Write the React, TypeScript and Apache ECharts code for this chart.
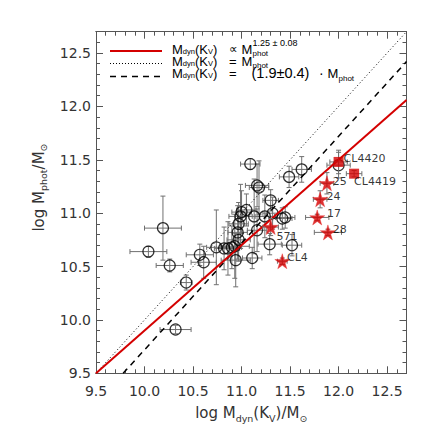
import React, { useEffect, useRef } from 'react';
import * as echarts from 'echarts';

// ---------- data ----------
const circleX = [10.04, 10.19, 10.26, 10.43, 10.32, 10.57, 10.61, 10.74, 10.82, 10.86, 10.9, 10.93, 10.97, 10.96, 10.97, 10.99, 11.0, 11.05, 11.09, 11.16, 11.18, 11.13, 11.24, 11.32, 11.3, 11.42, 11.45, 11.16, 10.94, 11.11, 11.29, 11.52, 11.49, 11.62, 12.0];
const circleY = [10.64, 10.86, 10.51, 10.35, 9.91, 10.61, 10.54, 10.68, 10.67, 10.67, 10.68, 10.69, 10.75, 10.82, 10.9, 10.97, 11.01, 11.03, 11.46, 11.26, 11.24, 10.97, 10.97, 11.0, 11.12, 10.95, 10.96, 10.84, 10.56, 10.58, 10.71, 10.7, 11.34, 11.41, 11.45];
const circleXErr = [0.19, 0.19, 0.14, 0.06, 0.16, 0.14, 0.13, 0.1, 0.1, 0.12, 0.1, 0.15, 0.12, 0.1, 0.1, 0.12, 0.1, 0.1, 0.1, 0.12, 0.1, 0.12, 0.1, 0.1, 0.08, 0.1, 0.1, 0.1, 0.15, 0.1, 0.12, 0.1, 0.1, 0.1, 0.12];
const circleYErr = [0.05, 0.3, 0.06, 0.07, 0.04, 0.1, 0.15, 0.35, 0.2, 0.25, 0.2, 0.3, 0.2, 0.25, 0.2, 0.3, 0.2, 0.15, 0.05, 0.2, 0.25, 0.35, 0.2, 0.15, 0.1, 0.1, 0.1, 0.2, 0.25, 0.1, 0.1, 0.1, 0.1, 0.12, 0.12];

const starX = [11.3, 11.42, 11.78, 11.89, 11.81, 11.88];
const starY = [10.87, 10.55, 10.96, 10.82, 11.13, 11.28];
const starXErr = [0.08, 0.05, 0.12, 0.14, 0.07, 0.07];
const starYErr = [0.08, 0.03, 0.03, 0.03, 0.08, 0.1];
const starLabels = ['571', 'CL4', '17', '28', '24', '25'];

const squareX = [12.0, 12.16];
const squareY = [11.48, 11.37];
const squareXErr = [0.09, 0.08];
const squareYErr = [0.11, 0.03];
const squareLabels = ['CL4420', 'CL4419'];

const fitLineX = [9.5, 12.7];
const fitLineY = [9.5, 12.06];
const unityLineX = [9.5, 12.7];
const unityLineY = [9.5, 12.7];
const offsetLineX = [9.78, 12.7];
const offsetLineY = [9.5, 12.42];

// ---------- layout / styles ----------
const FONT = 'DejaVu Sans';
const LFONT = 'Liberation Sans';
const RED = '#d40000';
const FRAME = '#555';
const ERR = '#707070';
const STAR_PATH = 'path://M50,0 L61,35 L98,35 L68,57 L79,91 L50,70 L21,91 L32,57 L2,35 L39,35 Z';
const STAR_SIZE = 15;
const SQUARE_SIZE = 10;
const starLabelOffsets = [[-2, 9], [-3, -4], [2, -4], [-3, -3], [-1.5, -3], [-2, -2]];
const squareLabelOffsets = [[0, -3], [-5, 8]];

const pairs = (xs: number[], ys: number[]) => xs.map((x, i) => [x, ys[i]]);

function errorBars(xs: number[], ys: number[], xe: number[], ye: number[], z: number) {
  return {
    type: 'custom',
    silent: true,
    z,
    data: xs.map((x, i) => [x, ys[i], xe[i], ye[i]]),
    encode: { x: 0, y: 1 },
    renderItem: (_p: any, api: any) => {
      const x = api.value(0), y = api.value(1), dx = api.value(2), dy = api.value(3);
      const l = api.coord([x - dx, y]);
      const r = api.coord([x + dx, y]);
      const t = api.coord([x, y + dy]);
      const b = api.coord([x, y - dy]);
      const c = 2.5;
      const style = { stroke: ERR, lineWidth: 1, fill: 'none' };
      const ln = (x1: number, y1: number, x2: number, y2: number) => ({ type: 'line', shape: { x1, y1, x2, y2 }, style });
      return {
        type: 'group',
        children: [
          ln(l[0], l[1], r[0], r[1]),
          ln(l[0], l[1] - c, l[0], l[1] + c),
          ln(r[0], r[1] - c, r[0], r[1] + c),
          ln(t[0], t[1], b[0], b[1]),
          ln(t[0] - c, t[1], t[0] + c, t[1]),
          ln(b[0] - c, b[1], b[0] + c, b[1]),
        ],
      };
    },
  };
}

function makeAxis(kind: 'x' | 'y', position: string, interval: number, tickLen: number, showLabel: boolean, name?: string) {
  const ax: any = {
    type: 'value',
    position,
    min: 9.5,
    max: 12.7,
    interval,
    splitLine: { show: false },
    axisLine: { show: true, onZero: false, lineStyle: { color: FRAME, width: 1 } },
    axisTick: { show: true, inside: true, length: tickLen, lineStyle: { color: FRAME, width: 1 } },
    axisLabel: {
      show: showLabel,
      showMaxLabel: false,
      margin: kind === 'x' ? 11 : 5,
      color: '#333',
      fontFamily: FONT,
      fontSize: 14,
      formatter: (v: number) => v.toFixed(1),
    },
  };
  if (name) {
    ax.name = name;
    ax.nameLocation = 'middle';
    ax.nameGap = kind === 'x' ? 30 : 44;
    ax.nameTextStyle = {
      color: '#333',
      fontFamily: FONT,
      fontSize: 15,
      lineHeight: 20,
      padding: kind === 'x' ? 0 : [0, 0, 0, 30],
      rich: {
        sub: { fontFamily: FONT, fontSize: 9.5, lineHeight: 10, verticalAlign: 'bottom', color: '#333' },
      },
    };
  }
  return ax;
}

const legendRich = {
  sub: { fontFamily: LFONT, fontSize: 7.5, lineHeight: 3, verticalAlign: 'bottom', fill: '#000' },
};
const legendLineY = [51, 63.5, 76.5];
const legendRowY = [49, 61, 73];

function legendText(x: number, y: number, text: string, size = 13) {
  return {
    type: 'text',
    x,
    y,
    silent: true,
    style: {
      text,
      fill: '#000',
      fontFamily: LFONT,
      fontSize: size,
      lineHeight: 12,
      verticalAlign: 'middle',
      align: 'left',
      rich: legendRich,
    },
  };
}

const graphic: any[] = [
  { type: 'line', shape: { x1: 110, y1: legendLineY[0], x2: 162, y2: legendLineY[0] }, style: { stroke: RED, lineWidth: 2 } },
  { type: 'line', shape: { x1: 110, y1: legendLineY[1], x2: 162, y2: legendLineY[1] }, style: { stroke: '#000', lineWidth: 1, lineDash: [1, 2] } },
  { type: 'line', shape: { x1: 110, y1: legendLineY[2], x2: 162, y2: legendLineY[2] }, style: { stroke: '#000', lineWidth: 1.5, lineDash: [6, 5] } },
];
legendRowY.forEach((y) => graphic.push(legendText(172, y, 'M{sub|dyn}(K{sub|V})')));
graphic.push(legendText(229, legendRowY[0], '∝', 12));
graphic.push(legendText(229, legendRowY[1], '=', 13));
graphic.push(legendText(229, legendRowY[2], '=', 13));
graphic.push(legendText(241.5, legendRowY[0], 'M'));
graphic.push(legendText(252.5, legendRowY[0] - 6, '1.25 ± 0.08', 9));
graphic.push(legendText(252.5, legendRowY[0] + 4.5, 'phot', 8));
graphic.push(legendText(241.5, legendRowY[1], 'M'));
graphic.push(legendText(252.5, legendRowY[1] + 4.5, 'phot', 8));
graphic.push(legendText(251.5, legendRowY[2], '(1.9±0.4)', 14.5));
graphic.push(legendText(319, legendRowY[2], '·', 14));
graphic.push(legendText(327.5, legendRowY[2], 'M'));
graphic.push(legendText(338.5, legendRowY[2] + 5.5, 'phot', 8));

const labelStyle = { show: true, position: 'right', distance: 0, color: '#000', fontFamily: FONT, fontSize: 11 };

const option: any = {
  animation: false,
  backgroundColor: '#fff',
  grid: { left: 96, right: 29.5, top: 31.7, bottom: 62.7, containLabel: false },
  xAxis: [
    makeAxis('x', 'bottom', 0.5, 7, true, 'log M{sub|dyn}(K{sub|V})/M{sub|⊙}'),
    makeAxis('x', 'bottom', 0.1, 4, false),
    makeAxis('x', 'top', 0.5, 7, false),
    makeAxis('x', 'top', 0.1, 4, false),
  ],
  yAxis: [
    makeAxis('y', 'left', 0.5, 7, true, 'log M{sub|phot}/M{sub|⊙}'),
    makeAxis('y', 'left', 0.1, 4, false),
    makeAxis('y', 'right', 0.5, 7, false),
    makeAxis('y', 'right', 0.1, 4, false),
  ],
  graphic,
  series: [
    errorBars(circleX, circleY, circleXErr, circleYErr, 2),
    {
      type: 'scatter',
      z: 3,
      symbol: 'circle',
      symbolSize: 11,
      itemStyle: { color: 'rgba(0,0,0,0)', borderColor: '#000', borderWidth: 1.2 },
      data: pairs(circleX, circleY),
    },
    {
      type: 'line', z: 4, symbol: 'none', clip: true,
      lineStyle: { color: '#000', width: 1, type: [1, 2.5] },
      data: pairs(unityLineX, unityLineY),
    },
    {
      type: 'line', z: 4, symbol: 'none', clip: true,
      lineStyle: { color: '#000', width: 1.5, type: [6, 5] },
      data: pairs(offsetLineX, offsetLineY),
    },
    {
      type: 'line', z: 4, symbol: 'none', clip: true,
      lineStyle: { color: RED, width: 2 },
      data: pairs(fitLineX, fitLineY),
    },
    errorBars(starX, starY, starXErr, starYErr, 5),
    errorBars(squareX, squareY, squareXErr, squareYErr, 5),
    {
      type: 'scatter',
      z: 6,
      symbol: STAR_PATH,
      symbolSize: STAR_SIZE,
      itemStyle: { color: RED, borderColor: '#e83030', borderWidth: 0.5 },
      data: starX.map((x, i) => ({
        value: [x, starY[i]],
        label: { ...labelStyle, formatter: starLabels[i], offset: starLabelOffsets[i] },
      })),
    },
    {
      type: 'scatter',
      z: 6,
      symbol: 'rect',
      symbolSize: SQUARE_SIZE,
      itemStyle: { color: RED },
      data: squareX.map((x, i) => ({
        value: [x, squareY[i]],
        label: { ...labelStyle, formatter: squareLabels[i], offset: squareLabelOffsets[i] },
      })),
    },
  ],
};

export default function App() {
  const ref = useRef<HTMLDivElement>(null);
  useEffect(() => {
    const chart = echarts.init(ref.current!, null, { renderer: 'svg' });
    chart.setOption(option);
    return () => chart.dispose();
  }, []);
  return (
    <div
      ref={ref}
      style={{ position: 'fixed', left: 0, top: 0, width: 436, height: 436, background: '#fff' }}
    />
  );
}
